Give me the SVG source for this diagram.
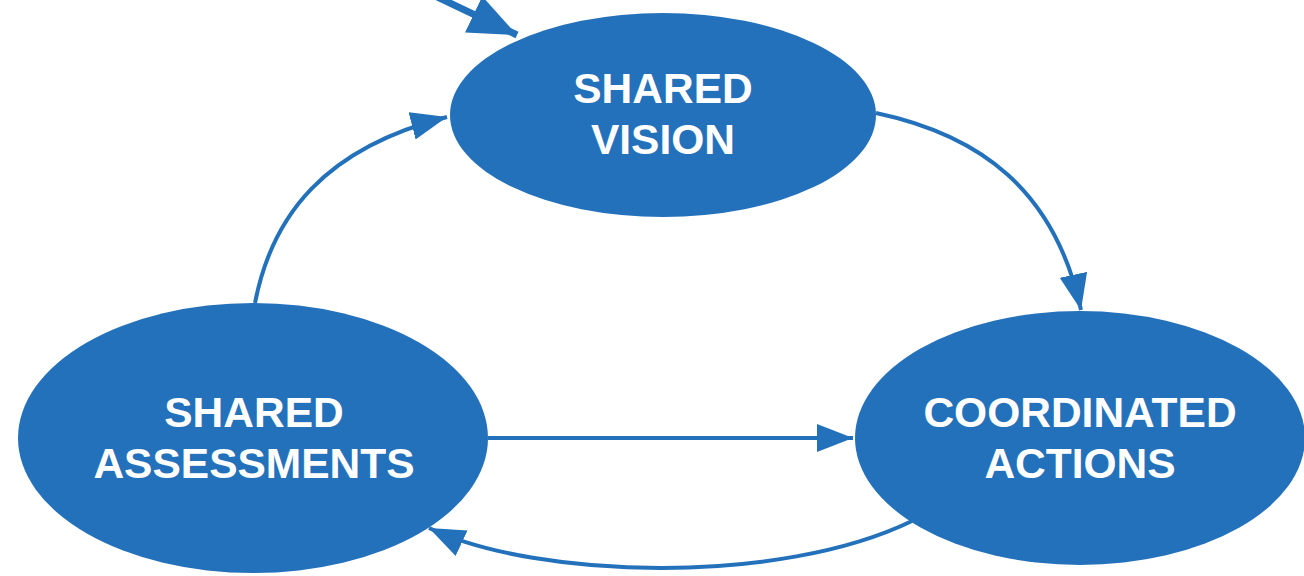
<svg xmlns="http://www.w3.org/2000/svg" width="1304" height="576" viewBox="0 0 1304 576">
<style>
.node{fill:#2471BB;}
.lbl{fill:#FFFFFF;font-family:"Liberation Sans",Arial,sans-serif;font-weight:bold;font-size:42.5px;text-anchor:middle;}
.edge{fill:none;stroke:#2471BB;stroke-width:4;}
</style>
<defs>
<marker id="ah" markerUnits="userSpaceOnUse" markerWidth="40" markerHeight="32" refX="36" refY="14" orient="auto" viewBox="0 0 40 32">
<path d="M0,0 L36,14 L0,28 z" fill="#2471BB"/>
</marker>
<marker id="ahBig" markerUnits="userSpaceOnUse" markerWidth="52" markerHeight="44" refX="48" refY="20" orient="auto" viewBox="0 0 52 44">
<path d="M0,0 L48,20 L0,40 z" fill="#2471BB"/>
</marker>
</defs>
<g id="connectors">
<path class="edge" style="stroke-width:7" d="M410,-16 L517,35" marker-end="url(#ahBig)"/>
<path class="edge" d="M255,303 C272,215 325,148 447,117" marker-end="url(#ah)"/>
<path class="edge" d="M876,113 C980,135 1055,190 1081,310" marker-end="url(#ah)"/>
<path class="edge" d="M488,438 L853,438" marker-end="url(#ah)"/>
<path class="edge" d="M912,521 C780,585 540,580 429,528" marker-end="url(#ah)"/>
</g>
<g id="shared-vision">
<ellipse class="node" cx="663" cy="115" rx="213" ry="102"/>
<text class="lbl" x="663" y="103">SHARED</text>
<text class="lbl" x="663" y="154">VISION</text>
</g>
<g id="shared-assessments">
<ellipse class="node" cx="253" cy="438" rx="235" ry="135"/>
<text class="lbl" x="254" y="427">SHARED</text>
<text class="lbl" x="254" y="478">ASSESSMENTS</text>
</g>
<g id="coordinated-actions">
<ellipse class="node" cx="1080" cy="438" rx="225" ry="127"/>
<text class="lbl" x="1080" y="427">COORDINATED</text>
<text class="lbl" x="1080" y="478">ACTIONS</text>
</g>
</svg>
